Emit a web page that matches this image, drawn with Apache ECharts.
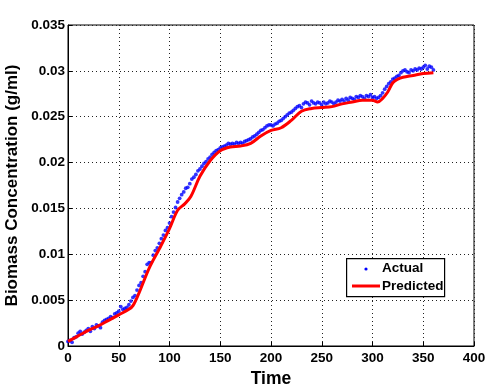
<!DOCTYPE html>
<html>
<head>
<meta charset="utf-8">
<script src="https://cdn.jsdelivr.net/npm/echarts@6/dist/echarts.min.js"></script>
<style>html,body{margin:0;padding:0;background:#fff;}#c{width:485px;height:384px;}</style>
</head>
<body>
<div id="c"></div>
<script>
var actualTime = [0,2,4,6,8,10,12,14,16,18,20,22,24,26,28,30,32,34,36,38,40,42,44,46,48,50,52,54,56,58,60,62,64,66,68,70,72,74,76,78,80,82,84,86,88,90,92,94,96,98,100,102,104,106,108,110,112,114,116,118,120,122,124,126,128,130,132,134,136,138,140,142,144,146,148,150,152,154,156,158,160,162,164,166,168,170,172,174,176,178,180,182,184,186,188,190,192,194,196,198,200,202,204,206,208,210,212,214,216,218,220,222,224,226,228,230,232,234,236,238,240,242,244,246,248,250,252,254,256,258,260,262,264,266,268,270,272,274,276,278,280,282,284,286,288,290,292,294,296,298,300,302,304,306,308,310,312,314,316,318,320,322,324,326,328,330,332,334,336,338,340,342,344,346,348,350,352,354,356,358,360];
var actualValues = [0.0005,0.0006,0.0004,0.0009,0.0010,0.0014,0.0016,0.0013,0.0015,0.0017,0.0019,0.0016,0.0021,0.0019,0.0023,0.0022,0.0020,0.0026,0.0028,0.0029,0.0030,0.0032,0.0031,0.0035,0.0036,0.0038,0.0043,0.0040,0.0041,0.0042,0.0045,0.0049,0.0053,0.0055,0.0061,0.0066,0.0069,0.0076,0.0081,0.0089,0.0091,0.0091,0.0099,0.0104,0.0107,0.0112,0.0117,0.0121,0.0126,0.0129,0.0134,0.0141,0.0146,0.0151,0.0157,0.0161,0.0165,0.0168,0.0172,0.0173,0.0177,0.0182,0.0184,0.0187,0.0191,0.0193,0.0196,0.0199,0.0201,0.0204,0.0206,0.0209,0.0211,0.0213,0.0214,0.0216,0.0217,0.0218,0.0219,0.0221,0.0220,0.0221,0.0220,0.0222,0.0221,0.0222,0.0221,0.0223,0.0224,0.0225,0.0226,0.0228,0.0229,0.0231,0.0233,0.0235,0.0236,0.0238,0.0240,0.0241,0.0241,0.0240,0.0242,0.0243,0.0245,0.0246,0.0248,0.0250,0.0252,0.0254,0.0255,0.0257,0.0259,0.0261,0.0262,0.0260,0.0264,0.0266,0.0265,0.0263,0.0267,0.0265,0.0264,0.0266,0.0265,0.0263,0.0266,0.0264,0.0265,0.0267,0.0266,0.0264,0.0266,0.0268,0.0267,0.0269,0.0267,0.0270,0.0268,0.0271,0.0270,0.0269,0.0272,0.0271,0.0273,0.0272,0.0270,0.0273,0.0272,0.0274,0.0271,0.0272,0.0270,0.0271,0.0273,0.0276,0.0280,0.0283,0.0286,0.0288,0.0291,0.0292,0.0294,0.0295,0.0298,0.0300,0.0301,0.0299,0.0298,0.0301,0.0300,0.0302,0.0301,0.0303,0.0302,0.0304,0.0306,0.0302,0.0305,0.0304,0.0301];
var predictedTime = [0,10,20,30,40,50,60,64,70,80,90,100,108,115,121,130,140,150,160,170,180,190,200,210,220,230,240,250,260,270,280,290,300,305,310,315,320,325,330,340,350,360];
var predictedValues = [0.0005,0.0011,0.0017,0.0022,0.0028,0.0034,0.0040,0.0044,0.0058,0.0085,0.0106,0.0128,0.0148,0.0155,0.0163,0.0185,0.0202,0.0213,0.0217,0.0218,0.0221,0.0229,0.0235,0.0238,0.0246,0.0256,0.0259,0.0260,0.0261,0.0264,0.0266,0.0268,0.0268,0.0266,0.0270,0.0277,0.0287,0.0291,0.0293,0.0295,0.0297,0.0298];
var xTicks = [0,50,100,150,200,250,300,350,400];
var yTicks = ['0','0.005','0.01','0.015','0.02','0.025','0.03','0.035'];
var legendNames = ['Actual','Predicted'];

var chart = echarts.init(document.getElementById('c'), null, {renderer:'canvas'});
var font = 'Liberation Sans, Arial, Helvetica, sans-serif';
var axisCommon = {
  axisLine:{show:true, onZero:false, lineStyle:{color:'#000', width:1}},
  axisTick:{show:true, inside:true, length:4, lineStyle:{color:'#000'}},
  splitLine:{show:true, lineStyle:{color:'#222', type:[1,3], width:1}},
  axisLabel:{color:'#000', fontFamily:font, fontWeight:'bold', fontSize:13.5}
};
chart.setOption({
  animation:false,
  backgroundColor:'#fff',
  grid:{left:68, top:25, width:406, height:321, show:true, borderColor:'#000', borderWidth:1, backgroundColor:'transparent', containLabel:false, outerBoundsMode:'none'},
  xAxis:Object.assign({}, axisCommon, {
    type:'value', min:0, max:400, interval:50,
    name:'Time', nameLocation:'middle', nameGap:20,
    nameTextStyle:{color:'#000', fontFamily:font, fontWeight:'bold', fontSize:17.5},
    axisLabel:Object.assign({}, axisCommon.axisLabel, {margin:5, formatter:function(v){ var i = xTicks.indexOf(v); return i>=0 ? String(xTicks[i]) : ''; }})
  }),
  yAxis:Object.assign({}, axisCommon, {
    type:'value', min:0, max:0.035, interval:0.005,
    name:'Biomass Concentration (g/ml)', nameLocation:'middle', nameGap:37, nameRotate:90,
    nameTextStyle:{color:'#000', fontFamily:font, fontWeight:'bold', fontSize:17},
    axisLabel:Object.assign({}, axisCommon.axisLabel, {margin:3, formatter:function(v){ var i = Math.round(v/0.005); return yTicks[i] || ''; }})
  }),
  graphic:[
    {type:'rect', left:346, top:258, shape:{width:98, height:38}, style:{fill:'#fff', stroke:'#000', lineWidth:1.2}, z:10},
    {type:'circle', shape:{cx:366, cy:269, r:1.6}, style:{fill:'#0000ff'}, z:11},
    {type:'text', left:382, top:261, style:{text:legendNames[0], fill:'#000', font:'bold 13.5px ' + font}, z:11},
    {type:'line', shape:{x1:352, y1:286, x2:380, y2:286}, style:{stroke:'#ff0000', lineWidth:3}, z:11},
    {type:'text', left:382, top:279, style:{text:legendNames[1], fill:'#000', font:'bold 13.5px ' + font}, z:11}
  ],
  series:[
    {name:legendNames[0], type:'scatter', symbol:'circle', symbolSize:3.8,
     itemStyle:{color:'#0000ff'},
     data:actualTime.map(function(t,i){return [t, actualValues[i]];}), z:2},
    {name:legendNames[1], type:'line', smooth:0.35, showSymbol:false, symbol:'none',
     lineStyle:{color:'#ff0000', width:3}, itemStyle:{color:'#ff0000'},
     data:predictedTime.map(function(t,i){return [t, predictedValues[i]];}), z:3}
  ]
});
</script>
</body>
</html>
